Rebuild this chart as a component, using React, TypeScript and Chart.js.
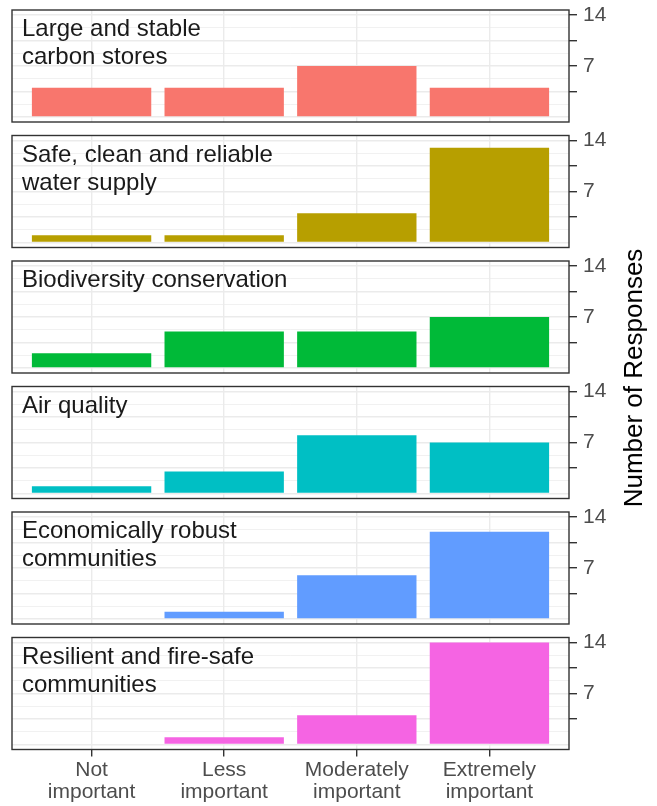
import React, { useEffect, useRef } from 'react';
import { Chart, registerables } from 'chart.js';

Chart.register(...registerables);

// ---------- data ----------
const CATEGORIES: string[][] = [
  ['Not', 'important'],
  ['Less', 'important'],
  ['Moderately', 'important'],
  ['Extremely', 'important'],
];

const PANEL_TITLES: string[][] = [
  ['Large and stable', 'carbon stores'],
  ['Safe, clean and reliable', 'water supply'],
  ['Biodiversity conservation'],
  ['Air quality'],
  ['Economically robust', 'communities'],
  ['Resilient and fire-safe', 'communities'],
];

const CARBON_STORES = [4, 4, 7, 4];
const WATER_SUPPLY = [1, 1, 4, 13];
const BIODIVERSITY = [2, 5, 5, 7];
const AIR_QUALITY = [1, 3, 8, 7];
const ECONOMIC_COMMUNITIES = [0, 1, 6, 12];
const FIRE_SAFE_COMMUNITIES = [0, 1, 4, 14];

const SERIES: number[][] = [
  CARBON_STORES,
  WATER_SUPPLY,
  BIODIVERSITY,
  AIR_QUALITY,
  ECONOMIC_COMMUNITIES,
  FIRE_SAFE_COMMUNITIES,
];

const PANEL_COLORS = ['#F8766D', '#B79F00', '#00BA38', '#00BFC4', '#619CFF', '#F564E3'];

const Y_TICKS = [0, 1.75, 3.5, 5.25, 7, 8.75, 10.5, 12.25, 14];
const Y_LABELED = [7, 14];
const AXIS_TITLE = 'Number of Responses';

// ---------- layout ----------
const W = 657;
const H = 806;
const PANEL_LEFT = 12;
const Y_AXIS_W = 88; // 657 - 88 = 569 panel right
const PANEL_H = 112;
const PANEL_TOPS = [10, 135.5, 261, 386.5, 512, 637.5];
const MARGIN = 16;
const FONT = '"Liberation Sans", Arial, Helvetica, sans-serif';

const isMajor = (v: number) => Math.abs(v % 3.5) < 1e-6;

const framePlugin = {
  id: 'panelFrame',
  afterDraw(chart: any, _args: any, opts: any) {
    const { ctx, chartArea: a } = chart;
    ctx.save();
    ctx.fillStyle = '#1A1A1A';
    ctx.font = `24px ${FONT}`;
    ctx.textAlign = 'left';
    ctx.textBaseline = 'alphabetic';
    (opts.lines || []).forEach((line: string, i: number) => {
      ctx.fillText(line, a.left + 10, a.top + 26 + i * 28);
    });
    ctx.strokeStyle = '#333333';
    ctx.lineWidth = 1.4;
    ctx.strokeRect(a.left, a.top, a.right - a.left, a.bottom - a.top);
    ctx.restore();
  },
};

function Panel({ index }: { index: number }) {
  const ref = useRef<HTMLCanvasElement>(null);
  const isLast = index === SERIES.length - 1;
  const panelTop = PANEL_TOPS[index];
  const canvasTop = Math.floor(panelTop) - MARGIN;
  const padTop = panelTop - canvasTop;
  const canvasH = isLast ? H - canvasTop : Math.ceil(padTop + PANEL_H + MARGIN);
  const padBottom = isLast ? 0 : canvasH - padTop - PANEL_H;
  const xAxisH = isLast ? canvasH - padTop - PANEL_H : 0;

  useEffect(() => {
    if (!ref.current) return;
    const values = SERIES[index];
    const chart = new Chart(ref.current, {
      type: 'bar',
      data: {
        datasets: [
          {
            data: values.map((v, i) => ({ x: i, y: v })),
            backgroundColor: PANEL_COLORS[index],
            borderWidth: 0,
            barPercentage: 0.9,
            categoryPercentage: 1,
          } as any,
        ],
      },
      options: {
        animation: false,
        responsive: false,
        maintainAspectRatio: false,
        events: [],
        layout: { padding: { top: padTop, left: PANEL_LEFT, right: 0, bottom: padBottom } },
        plugins: {
          legend: { display: false },
          tooltip: { enabled: false },
          panelFrame: { lines: PANEL_TITLES[index] },
        } as any,
        scales: {
          x: {
            type: 'linear',
            min: -0.6,
            max: 3.6,
            offset: false,
            afterBuildTicks: (s: any) => {
              s.ticks = CATEGORIES.map((_, i) => ({ value: i }));
            },
            afterFit: (s: any) => {
              s.height = xAxisH;
              s.paddingLeft = 0;
              s.paddingRight = 0;
            },
            border: { display: false },
            grid: {
              offset: false,
              color: '#EBEBEB',
              lineWidth: 1.4,
              drawTicks: isLast,
              tickColor: '#333333',
              tickLength: 7,
              tickWidth: 1.4,
            },
            ticks: {
              display: isLast,
              autoSkip: false,
              maxRotation: 0,
              padding: 3,
              color: '#4D4D4D',
              font: { family: FONT, size: 21, lineHeight: 1.05 },
              callback: (v: any) => CATEGORIES[Math.round(Number(v))] || '',
            },
          } as any,
          y: {
            type: 'linear',
            position: 'right',
            min: -0.7,
            max: 14.7,
            afterBuildTicks: (s: any) => {
              s.ticks = Y_TICKS.map((v) => ({ value: v }));
            },
            afterFit: (s: any) => {
              s.width = Y_AXIS_W;
              s.paddingTop = 0;
              s.paddingBottom = 0;
            },
            border: { display: false },
            grid: {
              color: '#EBEBEB',
              lineWidth: (c: any) => (c.tick && isMajor(c.tick.value) ? 1.4 : 0.7),
              drawTicks: true,
              tickLength: 8,
              tickWidth: 1.4,
              tickColor: (c: any) =>
                c.tick && c.tick.value > 0 && isMajor(c.tick.value) ? '#333333' : 'rgba(0,0,0,0)',
            },
            ticks: {
              autoSkip: false,
              padding: 6,
              color: '#4D4D4D',
              font: { family: FONT, size: 21 },
              callback: (v: any) => (Y_LABELED.includes(Number(v)) ? String(v) : ''),
            },
          } as any,
        },
      },
      plugins: [framePlugin as any],
    });
    return () => chart.destroy();
  }, [index]);

  return (
    <canvas
      ref={ref}
      width={W}
      height={canvasH}
      style={{ position: 'absolute', left: 0, top: canvasTop, width: W, height: canvasH }}
    />
  );
}

export default function App() {
  return (
    <div
      style={{
        position: 'absolute',
        left: 0,
        top: 0,
        width: W,
        height: H,
        background: '#FFFFFF',
        overflow: 'hidden',
      }}
    >
      {SERIES.map((_, i) => (
        <Panel key={i} index={i} />
      ))}
      <div
        style={{
          position: 'absolute',
          left: 633 - 200,
          top: 378 - 16,
          width: 400,
          height: 32,
          lineHeight: '32px',
          textAlign: 'center',
          transform: 'rotate(-90deg)',
          transformOrigin: 'center center',
          fontFamily: FONT,
          fontSize: 26,
          color: '#000000',
          whiteSpace: 'nowrap',
        }}
      >
        {AXIS_TITLE}
      </div>
    </div>
  );
}
